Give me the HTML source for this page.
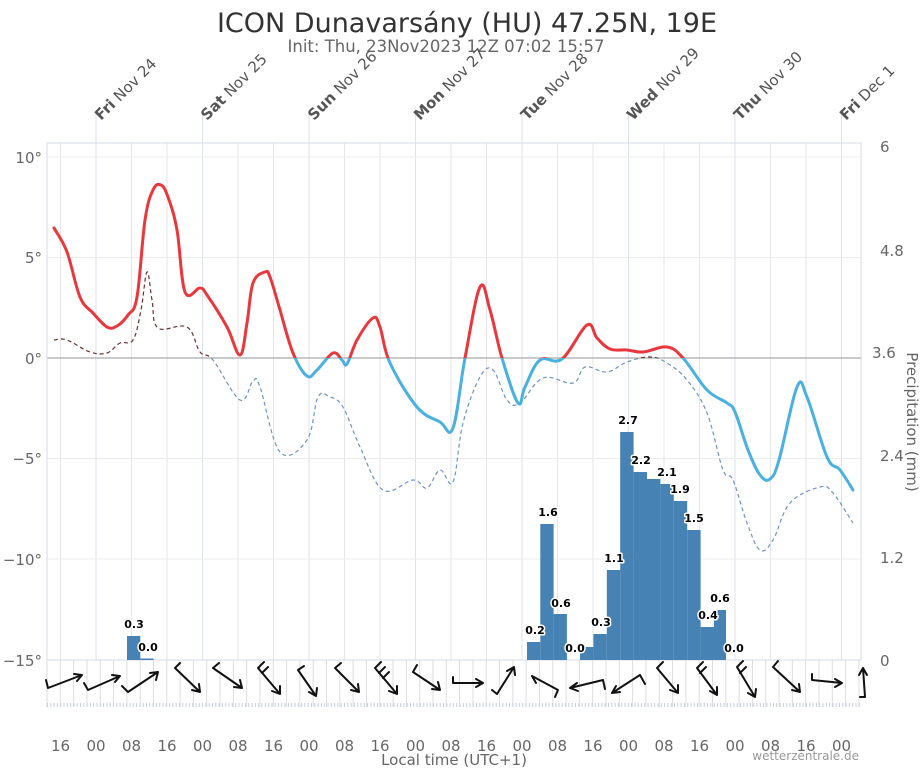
<!DOCTYPE html>
<html><head><meta charset="utf-8"><style>
html,body{margin:0;padding:0;background:#fff;}
svg{display:block;font-family:"DejaVu Sans","Liberation Sans",sans-serif;}
.bl{font-size:11px;font-weight:bold;fill:#000;stroke:#fff;stroke-width:3px;paint-order:stroke;stroke-linejoin:round;text-anchor:middle}
.tl{font-size:15px;fill:#666;text-anchor:middle}
</style></head><body>
<svg id="s" width="921" height="768" viewBox="0 0 921 768" xmlns="http://www.w3.org/2000/svg">
<defs>
<clipPath id="above"><rect x="0" y="0" width="921" height="358"/></clipPath>
<clipPath id="below"><rect x="0" y="358" width="921" height="400"/></clipPath>
</defs>
<text x="467" y="32" font-size="27" fill="#333" text-anchor="middle">ICON Dunavarsány (HU) 47.25N, 19E</text>
<text x="446" y="52" font-size="16.5" fill="#666" text-anchor="middle">Init: Thu, 23Nov2023 12Z 07:02 15:57</text>

<g stroke="#e6e6e6" stroke-width="1">
<line x1="60.5" y1="143" x2="60.5" y2="660"/><line x1="131.5" y1="143" x2="131.5" y2="660"/><line x1="167" y1="143" x2="167" y2="660"/><line x1="238" y1="143" x2="238" y2="660"/><line x1="273.5" y1="143" x2="273.5" y2="660"/><line x1="344.5" y1="143" x2="344.5" y2="660"/><line x1="380" y1="143" x2="380" y2="660"/><line x1="451" y1="143" x2="451" y2="660"/><line x1="486.5" y1="143" x2="486.5" y2="660"/><line x1="557.5" y1="143" x2="557.5" y2="660"/><line x1="593" y1="143" x2="593" y2="660"/><line x1="664" y1="143" x2="664" y2="660"/><line x1="699.5" y1="143" x2="699.5" y2="660"/><line x1="770.5" y1="143" x2="770.5" y2="660"/><line x1="806" y1="143" x2="806" y2="660"/>
</g>
<g stroke="#dde2ef" stroke-width="1">
<line x1="96" y1="113" x2="96" y2="660"/><line x1="202.5" y1="113" x2="202.5" y2="660"/><line x1="309" y1="113" x2="309" y2="660"/><line x1="415.5" y1="113" x2="415.5" y2="660"/><line x1="522" y1="113" x2="522" y2="660"/><line x1="628.5" y1="113" x2="628.5" y2="660"/><line x1="735" y1="113" x2="735" y2="660"/><line x1="841.5" y1="113" x2="841.5" y2="660"/>
</g>
<g stroke="#ececec" stroke-width="1">
<line x1="47" y1="157" x2="861" y2="157"/><line x1="47" y1="257.5" x2="861" y2="257.5"/><line x1="47" y1="458.5" x2="861" y2="458.5"/><line x1="47" y1="559" x2="861" y2="559"/>
</g>
<line x1="47" y1="358" x2="861" y2="358" stroke="#aaa" stroke-width="1.2"/>
<rect x="47" y="143" width="814" height="517" fill="none" stroke="#d6dbea" stroke-width="1"/>

<g font-size="15" fill="#555">
<text transform="translate(101,121) rotate(-45)"><tspan font-weight="bold">Fri</tspan> Nov 24</text>
<text transform="translate(207,121) rotate(-45)"><tspan font-weight="bold">Sat</tspan> Nov 25</text>
<text transform="translate(314,121) rotate(-45)"><tspan font-weight="bold">Sun</tspan> Nov 26</text>
<text transform="translate(420,121) rotate(-45)"><tspan font-weight="bold">Mon</tspan> Nov 27</text>
<text transform="translate(527,121) rotate(-45)"><tspan font-weight="bold">Tue</tspan> Nov 28</text>
<text transform="translate(633,121) rotate(-45)"><tspan font-weight="bold">Wed</tspan> Nov 29</text>
<text transform="translate(740,121) rotate(-45)"><tspan font-weight="bold">Thu</tspan> Nov 30</text>
<text transform="translate(846,121) rotate(-45)"><tspan font-weight="bold">Fri</tspan> Dec 1</text>
</g>

<g font-size="15" fill="#666" text-anchor="end">
<text x="42" y="163">10°</text><text x="42" y="263">5°</text><text x="42" y="364">0°</text><text x="42" y="464">−5°</text><text x="42" y="565">−10°</text><text x="42" y="666">−15°</text>
</g>
<g font-size="15" fill="#666">
<text x="880" y="152">6</text><text x="880" y="256">4.8</text><text x="872" y="358">3.6</text><text x="880" y="461">2.4</text><text x="880" y="563">1.2</text><text x="880" y="666">0</text>
</g>
<text transform="translate(907,422) rotate(90)" font-size="15" fill="#666" text-anchor="middle">Precipitation (mm)</text>

<g fill="#4682b4">
<rect x="127" y="636" width="13.3" height="24"/><rect x="140.3" y="658.5" width="13.3" height="1.5"/>
<rect x="527" y="642" width="13.3" height="18"/><rect x="540.3" y="524" width="13.3" height="136"/><rect x="553.6" y="614" width="13.3" height="46"/>
<rect x="580" y="647" width="13.4" height="13"/><rect x="593.4" y="634" width="13.4" height="26"/><rect x="606.8" y="570" width="13.4" height="90"/><rect x="620.2" y="432" width="13.4" height="228"/><rect x="633.6" y="472" width="13.4" height="188"/><rect x="647" y="479" width="13.4" height="181"/><rect x="660.4" y="484" width="13.4" height="176"/><rect x="673.8" y="501" width="13.4" height="159"/><rect x="687.2" y="530" width="13.4" height="130"/><rect x="700.6" y="627" width="13.4" height="33"/><rect x="714" y="610" width="12" height="50"/>
</g>

<polyline class="sm" clip-path="url(#above)" fill="none" stroke="#6b3030" stroke-width="1.2" stroke-dasharray="4,3" points="54,340 67,340 90,352 107,353 120,343 133,340 141,310 147,272 152,300 158,328 187,327 200,352 213,360 240,400 253,381 260,387 280,452 307,440 318,397 330,397 343,407 360,447 383,490 413,480 427,488 440,470 453,482 463,423 480,377 493,370 507,400 520,403 543,378 573,383 585,367 607,372 627,362 650,357 667,363 687,380 707,413 723,470 733,480 747,523 760,550 773,540 790,503 820,487 833,493 853,523"/>
<polyline class="sm" clip-path="url(#below)" fill="none" stroke="#6d94c9" stroke-width="1.2" stroke-dasharray="4,3" points="54,340 67,340 90,352 107,353 120,343 133,340 141,310 147,272 152,300 158,328 187,327 200,352 213,360 240,400 253,381 260,387 280,452 307,440 318,397 330,397 343,407 360,447 383,490 413,480 427,488 440,470 453,482 463,423 480,377 493,370 507,400 520,403 543,378 573,383 585,367 607,372 627,362 650,357 667,363 687,380 707,413 723,470 733,480 747,523 760,550 773,540 790,503 820,487 833,493 853,523"/>

<g fill="none" stroke-width="3" stroke-linejoin="round" stroke-linecap="round">
<polyline class="sm" clip-path="url(#above)" stroke="#e8383d" points="54,228 67,252 80,297 93,313 107,327 117,326 128,315 137,297 145,220 153,190 161,185 168,197 177,230 185,292 200,288 207,295 227,327 240,355 247,323 253,283 265,272 270,277 280,310 293,353 307,376 317,370 333,353 342,360 347,364 357,340 373,318 380,327 390,363 417,407 440,422 453,428 465,358 480,287 490,310 502,358 518,403 525,387 540,360 562,359 587,325 597,338 610,349 627,350 643,352 667,347 683,358 707,390 727,403 735,412 748,450 760,475 770,479 779,460 797,387 807,397 827,457 840,470 853,490"/>
<polyline class="sm" clip-path="url(#below)" stroke="#4ab0e0" points="54,228 67,252 80,297 93,313 107,327 117,326 128,315 137,297 145,220 153,190 161,185 168,197 177,230 185,292 200,288 207,295 227,327 240,355 247,323 253,283 265,272 270,277 280,310 293,353 307,376 317,370 333,353 342,360 347,364 357,340 373,318 380,327 390,363 417,407 440,422 453,428 465,358 480,287 490,310 502,358 518,403 525,387 540,360 562,359 587,325 597,338 610,349 627,350 643,352 667,347 683,358 707,390 727,403 735,412 748,450 760,475 770,479 779,460 797,387 807,397 827,457 840,470 853,490"/>
</g>

<text class="bl" x="134" y="628">0.3</text><text class="bl" x="148" y="651">0.0</text>
<text class="bl" x="535" y="634">0.2</text><text class="bl" x="548" y="516">1.6</text><text class="bl" x="561" y="607">0.6</text><text class="bl" x="575" y="652">0.0</text>
<text class="bl" x="601" y="626">0.3</text><text class="bl" x="614" y="562">1.1</text><text class="bl" x="628" y="424">2.7</text><text class="bl" x="641" y="464">2.2</text><text class="bl" x="667" y="476">2.1</text><text class="bl" x="680" y="493">1.9</text><text class="bl" x="694" y="522">1.5</text><text class="bl" x="708" y="619">0.4</text><text class="bl" x="720" y="602">0.6</text><text class="bl" x="734" y="652">0.0</text>

<g id="wg" stroke="#ddd" stroke-width="1"></g>
<line x1="47" y1="705" x2="861" y2="705" stroke="#c8cde0" stroke-width="4" stroke-dasharray="1,2.3"/>

<g stroke="#111" stroke-width="2" fill="none" stroke-linecap="round">
<path d="M48,688 L82,675 M48,688 L46,680 M82,675 l-8,-1 M82,675 l-5,6"/>
<path d="M88,690 L120,676 M88,690 L84,683 M120,676 l-8,-1 M120,676 l-5,6"/>
<path d="M128,692 L158,672 M128,692 L122,686 M158,672 l-8,1 M158,672 l-2,8"/>
<path d="M175,668 L200,692 M175,668 L180,663 M200,692 l-8,-2 M200,692 l-1,-8"/>
<path d="M213,668 L242,688 M213,668 L219,663 M242,688 l-8,-1 M242,688 l-2,-8"/>
<path d="M258,668 L280,694 M258,668 L264,662 M262,673 L268,667 M280,694 l-8,-3 M280,694 l0,-8"/>
<path d="M298,670 L316,696 M298,670 L304,666 M316,696 l-7,-4 M316,696 l1,-8"/>
<path d="M335,668 L359,692 M335,668 L341,663 M359,692 l-8,-2 M359,692 l-1,-8"/>
<path d="M375,668 L397,694 M375,668 L381,662 M379,673 L385,667 M383,678 L389,672 M397,694 l-8,-3 M397,694 l0,-8"/>
<path d="M413,672 L440,690 M413,672 L417,665 M440,690 l-8,-1 M440,690 l-2,-8"/>
<path d="M453,683 L483,683 M453,683 L453,677 M483,683 l-7,-4 M483,683 l-7,4"/>
<path d="M497,694 L514,667 M497,694 L492,690 M514,667 l-7,4 M514,667 l1,8"/>
<path d="M532,676 L558,690 M558,690 L555,697 M532,676 l4,7"/>
<path d="M603,680 L570,688 M603,680 L605,689 M570,688 l7,-5 M570,688 l8,3"/>
<path d="M640,675 L612,693 M640,675 L645,684 M612,693 l4,-7 M612,693 l8,-1"/>
<path d="M657,668 L678,693 M657,668 L663,662 M678,693 l-8,-3 M678,693 l0,-8"/>
<path d="M697,668 L717,695 M697,668 L703,662 M700,673 L706,667 M717,695 l-7,-4 M717,695 l0,-8"/>
<path d="M737,667 L755,697 M737,667 L743,661 M740,673 L746,667 M755,697 l-7,-4 M755,697 l1,-8"/>
<path d="M773,667 L800,692 M773,667 L778,661 M800,692 l-8,-2 M800,692 l-1,-8"/>
<path d="M812,680 L842,683 M812,680 L812,674 M842,683 l-7,-4 M842,683 l-7,4"/>
<path d="M865,697 L863,668 M865,697 L860,697 M863,668 l-4,7 M863,668 l4,7"/>
</g>

<g class="tl">
<text x="60.5" y="751" class="tl">16</text><text x="96" y="751" class="tl">00</text><text x="131.5" y="751" class="tl">08</text><text x="167" y="751" class="tl">16</text><text x="202.5" y="751" class="tl">00</text><text x="238" y="751" class="tl">08</text><text x="273.5" y="751" class="tl">16</text><text x="309" y="751" class="tl">00</text><text x="344.5" y="751" class="tl">08</text><text x="380" y="751" class="tl">16</text><text x="415.5" y="751" class="tl">00</text><text x="451" y="751" class="tl">08</text><text x="486.5" y="751" class="tl">16</text><text x="522" y="751" class="tl">00</text><text x="557.5" y="751" class="tl">08</text><text x="593" y="751" class="tl">16</text><text x="628.5" y="751" class="tl">00</text><text x="664" y="751" class="tl">08</text><text x="699.5" y="751" class="tl">16</text><text x="735" y="751" class="tl">00</text><text x="770.5" y="751" class="tl">08</text><text x="806" y="751" class="tl">16</text><text x="841.5" y="751" class="tl">00</text>
</g>
<text x="454" y="765" font-size="15" fill="#666" text-anchor="middle">Local time (UTC+1)</text>
<text x="859" y="760" font-size="12" fill="#999" text-anchor="end">wetterzentrale.de</text>
</svg>
<script>
(function(){
var NS="http://www.w3.org/2000/svg";
var g=document.getElementById("wg");
for(var x=47;x<=862;x+=13.31){var l=document.createElementNS(NS,"line");l.setAttribute("x1",x);l.setAttribute("x2",x);l.setAttribute("y1",660);l.setAttribute("y2",707);g.appendChild(l);}
var ps=document.querySelectorAll("polyline.sm");
for(var i=0;i<ps.length;i++){
 var p=ps[i];var pts=p.getAttribute("points").trim().split(/\s+/).map(function(s){return s.split(",").map(Number);});
 var d="M"+pts[0][0]+","+pts[0][1];
 for(var k=0;k<pts.length-1;k++){
  var p0=pts[Math.max(0,k-1)],p1=pts[k],p2=pts[k+1],p3=pts[Math.min(pts.length-1,k+2)];
  var t=0.18;
  var c1x=p1[0]+(p2[0]-p0[0])*t,c1y=p1[1]+(p2[1]-p0[1])*t,c2x=p2[0]-(p3[0]-p1[0])*t,c2y=p2[1]-(p3[1]-p1[1])*t;
  d+=" C"+c1x.toFixed(1)+","+c1y.toFixed(1)+" "+c2x.toFixed(1)+","+c2y.toFixed(1)+" "+p2[0]+","+p2[1];
 }
 var path=document.createElementNS(NS,"path");
 for(var a=0;a<p.attributes.length;a++){var at=p.attributes[a];if(at.name!=="points"&&at.name!=="class")path.setAttribute(at.name,at.value);}
 path.setAttribute("d",d);
 p.parentNode.replaceChild(path,p);
}
})();
</script>
</body></html>
